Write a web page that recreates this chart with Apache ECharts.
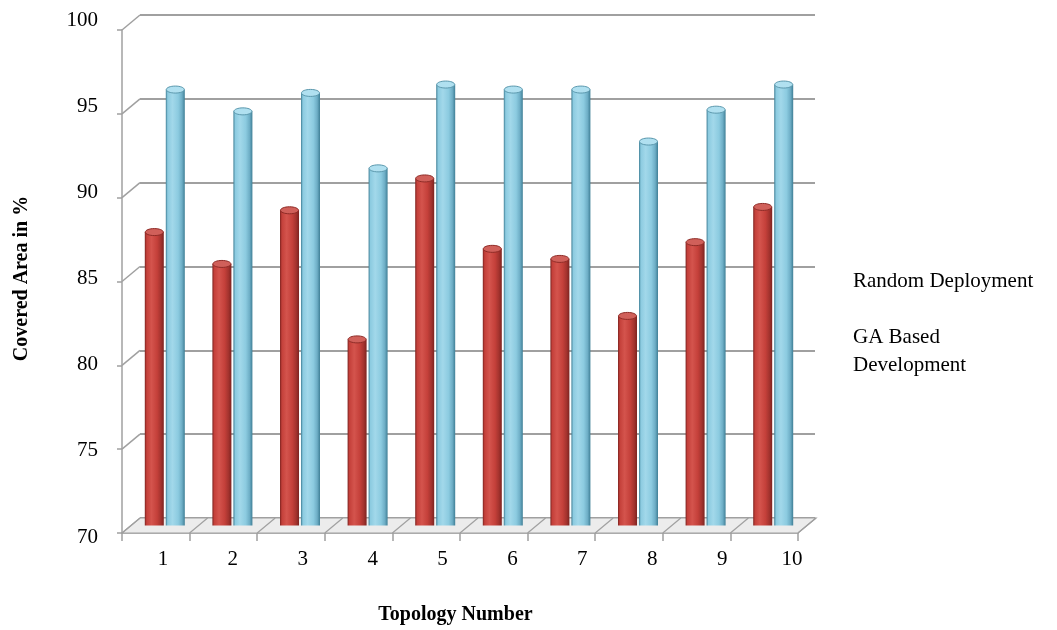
<!DOCTYPE html>
<html>
<head>
<meta charset="utf-8">
<script src="https://cdn.jsdelivr.net/npm/echarts@6/dist/echarts.min.js"></script>
<style>html,body{margin:0;padding:0;background:#fff}#c{width:1057px;height:630px}</style>
</head>
<body>
<div id="c"></div>
<script>
// ---- data ----
const categories = ['1','2','3','4','5','6','7','8','9','10'];
const randomDeployment = [87.5, 85.6, 88.8, 81.1, 90.7, 86.5, 85.9, 82.5, 86.9, 89.0];
const gaBasedDevelopment = [96.0, 94.7, 95.8, 91.3, 96.3, 96.0, 96.0, 92.9, 94.8, 96.3];
const yTicks = [70, 75, 80, 85, 90, 95, 100];
const seriesNames = ['Random Deployment', 'GA Based Development'];
const legendLabels = ['Random Deployment', 'GA Based\nDevelopment'];

// ---- style constants ----
const FONT = 'Liberation Serif, Times New Roman, serif';
const GRID_GRAY = '#a0a0a0';
const DEPTH_DX = 18, DEPTH_DY = -15;
const BAR_W = 19;
const Y_MIN = yTicks[0], Y_MAX = yTicks[yTicks.length - 1], Y_STEP = 5;

const palettes = [
  { edge: '#7d2320', light: '#d4544d', main: '#c4403a', dark: '#a3332e', cap: '#d0605a', capStroke: '#8e2b26' },
  { edge: '#3f7f96', light: '#a2d8ea', main: '#8ccbe0', dark: '#6eaec6', cap: '#b0e0f0', capStroke: '#5b98ad' }
];

const chart = echarts.init(document.getElementById('c'), null, { renderer: 'canvas' });

function hiddenCat(gi) {
  return { type: 'category', gridIndex: gi, data: categories, boundaryGap: true,
    axisLine: { show: false }, axisTick: { show: false }, axisLabel: { show: false }, splitLine: { show: false } };
}
function hiddenVal(gi) {
  return { type: 'value', gridIndex: gi, min: Y_MIN, max: Y_MAX, interval: Y_STEP,
    axisLine: { show: false }, axisTick: { show: false }, axisLabel: { show: false }, splitLine: { show: false } };
}

function barSeries(k, values) {
  const pal = palettes[k];
  const sign = k === 0 ? -1 : 1;
  return {
    type: 'custom', name: seriesNames[k], xAxisIndex: 1, yAxisIndex: 1, z: 5,
    itemStyle: { color: pal.main },
    data: values.map((v, i) => [i, v]),
    renderItem: function (params, api) {
      const idx = api.value(0), v = api.value(1);
      const top = api.coord([idx, v]);
      const base = api.coord([idx, Y_MIN]);
      const cx = top[0] + sign * (BAR_W / 2 + 1);
      const x = cx - BAR_W / 2;
      const grad = new echarts.graphic.LinearGradient(0, 0, 1, 0, [
        { offset: 0, color: pal.edge },
        { offset: 0.1, color: pal.main },
        { offset: 0.35, color: pal.light },
        { offset: 0.65, color: pal.main },
        { offset: 0.85, color: pal.dark },
        { offset: 1, color: pal.edge }
      ]);
      return {
        type: 'group',
        children: [
          { type: 'rect', shape: { x: x, y: top[1], width: BAR_W, height: base[1] - top[1] }, style: { fill: grad } },
          { type: 'ellipse', shape: { cx: cx, cy: top[1], rx: BAR_W / 2 - 0.5, ry: 3.5 },
            style: { fill: pal.cap, stroke: pal.capStroke, lineWidth: 1 } }
        ]
      };
    }
  };
}

const decorSeries = {
  type: 'custom', xAxisIndex: 2, yAxisIndex: 2, z: 1, silent: true,
  data: [[0, Y_MIN]],
  renderItem: function (params, api) {
    const bw = api.size([1, 0])[0];
    const p0 = api.coord([0, Y_MIN]);
    const x0 = p0[0] - bw / 2, yb = p0[1];
    const x1 = x0 + bw * categories.length;
    const children = [];
    children.push({ type: 'polygon', shape: { points: [[x0, yb], [x1, yb], [x1 + DEPTH_DX, yb + DEPTH_DY], [x0 + DEPTH_DX, yb + DEPTH_DY]] },
      style: { fill: '#ececec', stroke: GRID_GRAY, lineWidth: 1.2 } });
    for (let k = 0; k <= categories.length; k++) {
      const xx = x0 + k * bw;
      children.push({ type: 'line', shape: { x1: xx, y1: yb, x2: xx + DEPTH_DX, y2: yb + DEPTH_DY },
        style: { stroke: GRID_GRAY, lineWidth: 1.2 } });
    }
    yTicks.forEach(function (v) {
      if (v === Y_MIN) return;
      const p = api.coord([0, v]);
      children.push({ type: 'line', shape: { x1: x0, y1: p[1], x2: x0 + DEPTH_DX, y2: p[1] + DEPTH_DY },
        style: { stroke: GRID_GRAY, lineWidth: 1.5 } });
    });
    return { type: 'group', children: children };
  }
};

const option = {
  animation: false,
  backgroundColor: '#fff',
  grid: [
    { left: 140, top: 15, width: 675, height: 503 },   // back wall
    { left: 131, top: 22.5, width: 676, height: 503 }, // bars (mid depth)
    { left: 122, top: 30, width: 676, height: 503 },   // front edges
    { left: 128, top: 20, width: 699, height: 517 }    // labels
  ],
  legend: {
    orient: 'vertical', left: 843, top: 262, itemGap: 28,
    itemWidth: 0, itemHeight: 0, icon: 'rect', selectedMode: false,
    data: seriesNames,
    formatter: function (name) { return legendLabels[seriesNames.indexOf(name)]; },
    textStyle: { fontFamily: FONT, fontSize: 21, color: '#000', lineHeight: 28 }
  },
  xAxis: [
    hiddenCat(0),
    hiddenCat(1),
    Object.assign(hiddenCat(2), {
      axisLine: { show: true, lineStyle: { color: GRID_GRAY, width: 1.5 } },
      axisTick: { show: true, length: 8, lineStyle: { color: GRID_GRAY, width: 1.5 } }
    }),
    Object.assign(hiddenCat(3), {
      axisLabel: { show: true, margin: 12, fontFamily: FONT, fontSize: 21, color: '#000' },
      name: 'Topology Number', nameLocation: 'middle', nameGap: 68,
      nameTextStyle: { fontFamily: FONT, fontSize: 20, fontWeight: 'bold', color: '#000', padding: [0, 44, 0, 0] }
    })
  ],
  yAxis: [
    Object.assign(hiddenVal(0), { splitLine: { show: true, lineStyle: { color: GRID_GRAY, width: 2 } } }),
    hiddenVal(1),
    Object.assign(hiddenVal(2), {
      axisLine: { show: true, lineStyle: { color: GRID_GRAY, width: 1.5 } },
      axisTick: { show: true, length: 5, lineStyle: { color: GRID_GRAY, width: 1.5 } }
    }),
    Object.assign(hiddenVal(3), {
      axisLabel: { show: true, margin: 30, fontFamily: FONT, fontSize: 21, color: '#000' },
      name: 'Covered Area in %', nameLocation: 'middle', nameGap: 96,
      nameTextStyle: { fontFamily: FONT, fontSize: 20, fontWeight: 'bold', color: '#000' }
    })
  ],
  series: [
    decorSeries,
    barSeries(0, randomDeployment),
    barSeries(1, gaBasedDevelopment)
  ]
};
chart.setOption(option);
</script>
</body>
</html>
